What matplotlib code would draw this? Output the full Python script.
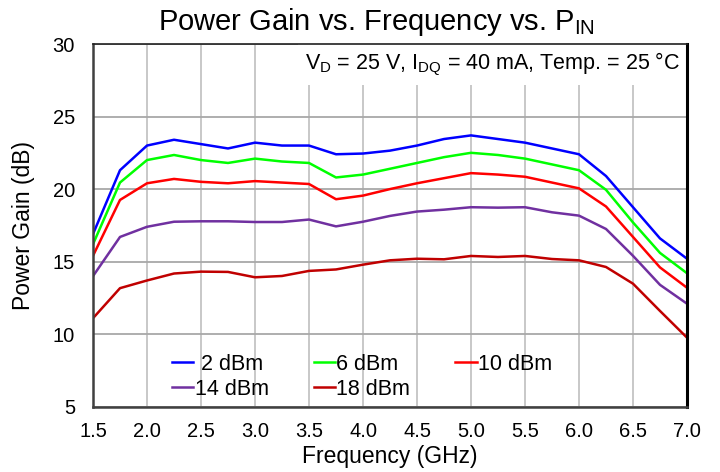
import matplotlib
matplotlib.use("Agg")
import matplotlib.pyplot as plt
import numpy as np

plt.rcParams['font.family'] = ['Liberation Sans', 'DejaVu Sans']
plt.rcParams['mathtext.fontset'] = 'custom'
plt.rcParams['mathtext.rm'] = 'Liberation Sans'
plt.rcParams['mathtext.it'] = 'Liberation Sans'

# frequency points (GHz)
freq = [1.5, 1.75, 2.0, 2.25, 2.5, 2.75, 3.0, 3.25, 3.5, 3.75, 4.0, 4.25,
        4.5, 4.75, 5.0, 5.25, 5.5, 5.75, 6.0, 6.25, 6.5, 6.75, 7.0]

# power gain (dB) per input power
gain_2dbm = [16.9, 21.3, 23.0, 23.4, 23.1, 22.8, 23.2, 23.0, 23.0, 22.4, 22.45, 22.65,
             23.0, 23.45, 23.7, 23.45, 23.2, 22.8, 22.4, 20.9, 18.75, 16.6, 15.2]
gain_6dbm = [16.2, 20.45, 22.0, 22.35, 22.0, 21.8, 22.1, 21.9, 21.8, 20.8, 21.0, 21.4,
             21.8, 22.2, 22.5, 22.35, 22.1, 21.7, 21.3, 19.95, 17.7, 15.6, 14.2]
gain_10dbm = [15.4, 19.25, 20.4, 20.7, 20.5, 20.4, 20.55, 20.45, 20.35, 19.3, 19.55, 20.0,
              20.4, 20.75, 21.1, 21.0, 20.85, 20.45, 20.05, 18.8, 16.7, 14.6, 13.2]
gain_14dbm = [14.0, 16.7, 17.4, 17.75, 17.78, 17.78, 17.73, 17.73, 17.9, 17.43, 17.75, 18.15,
              18.45, 18.58, 18.75, 18.72, 18.75, 18.4, 18.17, 17.25, 15.4, 13.4, 12.1]
gain_18dbm = [11.1, 13.17, 13.7, 14.18, 14.31, 14.29, 13.92, 14.01, 14.36, 14.46, 14.79, 15.09,
              15.2, 15.16, 15.39, 15.32, 15.39, 15.18, 15.09, 14.63, 13.48, 11.6, 9.76]

labels = [' 2 dBm', '6 dBm', '10 dBm', '14 dBm', '18 dBm']
colors = ['#0000ff', '#00ff00', '#ff0000', '#7030a0', '#c00000']
series = [gain_2dbm, gain_6dbm, gain_10dbm, gain_14dbm, gain_18dbm]

fig = plt.figure(figsize=(7.2, 4.72), dpi=100)
ax = fig.add_axes([93/720, 1 - 406.7/472, (687 - 93)/720, (406.7 - 44)/472])

lines = []
for y, c, lab in zip(series, colors, labels):
    ln, = ax.plot(freq, y, color=c, lw=1.8, label=lab, zorder=3)
    lines.append(ln)

ax.set_xlim(1.5, 7.0)
ax.set_ylim(5, 30)
ax.set_xticks(np.arange(1.5, 7.01, 0.5))
ax.set_yticks(np.arange(5, 31, 5))
ax.set_xticklabels(['%.1f' % v for v in np.arange(1.5, 7.01, 0.5)])

# grid: light vertical, slightly darker horizontal
ax.grid(axis='x', color='#c4c4c4', lw=1.3, zorder=1)
ax.grid(axis='y', color='#a8a8a8', lw=1.3, zorder=1)

ax.tick_params(length=0, labelsize=14.5)
ax.tick_params(axis='x', pad=11)
ax.tick_params(axis='y', pad=13)

for s in ['left', 'bottom']:
    ax.spines[s].set_color('#404040')
    ax.spines[s].set_linewidth(1.8)
ax.spines['top'].set_color('#202020')
ax.spines['top'].set_linewidth(1.2)
ax.spines['right'].set_color('black')
ax.spines['right'].set_linewidth(2.2)
for s in ax.spines.values():
    s.set_zorder(5)

ax.set_xlabel('Frequency (GHz)', fontsize=16.5, labelpad=3)
ax.set_ylabel('Power Gain (dB)', fontsize=16.5, labelpad=13)

fig.text(376/720, 1 - 22/472, 'Power Gain vs. Frequency vs. P$_{\\mathrm{IN}}$',
         ha='center', va='center', fontsize=21)

ax.text(0.988, 0.943, 'V$_{\\mathrm{D}}$ = 25 V, I$_{\\mathrm{DQ}}$ = 40 mA, Temp. = 25 \u00b0C',
        transform=ax.transAxes, ha='right', va='center', fontsize=15.5, zorder=4,
        bbox=dict(facecolor='white', edgecolor='none', pad=5))

order = [0, 3, 1, 4, 2]
ax.legend([lines[i] for i in order], [labels[i] for i in order], ncol=3,
          frameon=False, fontsize=15.5, handlelength=1.0, handletextpad=0.05,
          columnspacing=2.1, labelspacing=0.2,
          loc='upper left', bbox_to_anchor=(0.1003, 0.2))

fig.savefig('out.png', dpi=100)
